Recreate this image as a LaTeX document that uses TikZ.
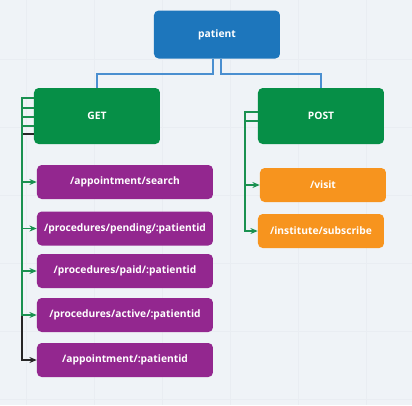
\documentclass[tikz,border=0pt]{standalone}
\usepackage{fontspec}
\setmainfont{Open Sans}
\usetikzlibrary{arrows.meta}
\definecolor{bg}{HTML}{EFF3F7}
\definecolor{gridc}{HTML}{E9EDF2}
\definecolor{pblue}{HTML}{1D76BC}
\definecolor{lblue}{HTML}{4A8FD0}
\definecolor{ggreen}{HTML}{068F47}
\definecolor{lgreen}{HTML}{1A9150}
\definecolor{ppurple}{HTML}{93278F}
\definecolor{porange}{HTML}{F7941E}
\tikzset{
  box/.style={draw=none, rounded corners=3.5pt, text=white, font=\fontsize{7.7}{8.5}\selectfont\bfseries, inner sep=0pt, anchor=center},
  topbox/.style={box, fill=pblue, minimum width=94.5pt, minimum height=36pt},
  midbox/.style={box, fill=ggreen, minimum width=94.5pt, minimum height=42pt},
  getbox/.style={box, fill=ppurple, minimum width=132pt, minimum height=25.5pt},
  postbox/.style={box, fill=porange, minimum width=94.5pt, minimum height=25.5pt},
  blink/.style={draw=lblue, line width=1.1pt},
  glink/.style={draw=lgreen, line width=0.9pt},
  garrow/.style={glink, -{Stealth[length=5.5pt,width=4.5pt]}},
  karrow/.style={draw=black!85, line width=0.9pt, -{Stealth[length=5.5pt,width=4.5pt]}}
}
\begin{document}
\begin{tikzpicture}[x=0.75pt,y=-0.75pt]
\fill[bg] (0,0) rectangle (412,405);
\useasboundingbox (0,0) rectangle (412,405);
\foreach \gx in {26,94,162,230,298,366} \draw[gridc,line width=0.5pt] (\gx,0) -- (\gx,405);
\foreach \gy in {59,127,195,263,331,399} \draw[gridc,line width=0.5pt] (0,\gy) -- (412,\gy);

\node[topbox] (patient) at (217,34.5) {patient};
\node[midbox] (get) at (97,116) {GET};
\node[midbox] (post) at (321,116) {POST};

\node[getbox] (g1) at (125,182) {/appointment/search};
\node[getbox] (g2) at (125,228.5) {/procedures/pending/:patientid};
\node[getbox] (g3) at (125,271) {/procedures/paid/:patientid};
\node[getbox] (g4) at (125,315) {/procedures/active/:patientid};
\node[getbox] (g5) at (125,360) {/appointment/:patientid};

\node[postbox] (p1) at (323,185) {/visit};
\node[postbox] (p2) at (321,231) {/institute/subscribe};

% patient -> GET / POST
\draw[blink] ([xshift=-3pt]patient.south) -- ++(0,-11.5pt) -| (get.north);
\draw[blink] ([xshift=3pt]patient.south) -- ++(0,-11.5pt) -| (post.north);

% GET -> children
\coordinate (gx) at (22,0);
\draw[karrow] (get.west |- 0,134) -- (gx |- 0,134) |- (g5.west);
\draw[garrow] (get.west |- 0,98) -- (gx |- 0,98) |- (g1.west);
\draw[garrow] (get.west |- 0,108) -- (gx |- 0,108) |- (g2.west);
\draw[garrow] (get.west |- 0,117) -- (gx |- 0,117) |- (g3.west);
\draw[garrow] (get.west |- 0,126) -- (gx |- 0,126) |- (g4.west);

% POST -> children
\coordinate (px) at (245,0);
\draw[garrow] (post.west |- 0,112) -- (px |- 0,112) |- (p1.west);
\draw[garrow] (post.west |- 0,121) -- (px |- 0,121) |- (p2.west);
\end{tikzpicture}
\end{document}
